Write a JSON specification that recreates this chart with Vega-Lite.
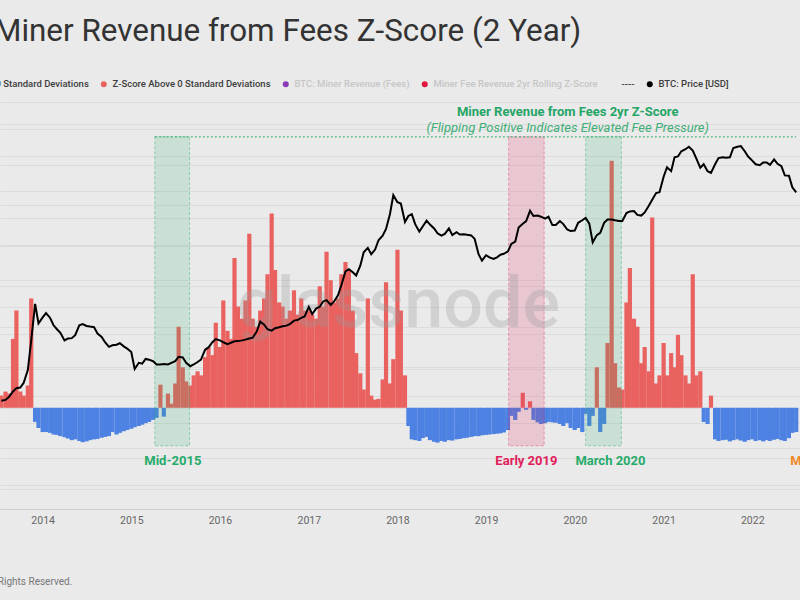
{
  "$schema": "https://vega.github.io/schema/vega-lite/v6.json",
  "width": 800,
  "height": 409,
  "autosize": {"type": "none"},
  "padding": {"left": 0, "top": 100, "right": 0, "bottom": 91},
  "background": "#eaeaea",
  "config": {"view": {"stroke": null}, "font": "Roboto",
    "axisX": {"grid": false, "ticks": false, "domainColor": "#cdcdcd", "labelColor": "#666666", "labelFontSize": 10.5, "labelPadding": 6, "labelFlush": false, "title": null}},
  "title": {"text": "Miner Revenue from Fees Z-Score (2 Year)", "anchor": "start", "frame": "group", "fontSize": 31.4, "font": "Roboto", "fontWeight": "normal", "color": "#333333", "offset": 32, "dx": -6},
  "datasets": {
    "main": [
      {"d":"2013-07-15","z":0.3,"p":88},{"d":"2013-08-01","z":0.4,"p":90},{"d":"2013-08-15","z":0.35,"p":97},{"d":"2013-09-01","z":1.7,"p":112},{"d":"2013-09-15","z":2.4,"p":122},{"d":"2013-10-01","z":0.4,"p":124},{"d":"2013-10-15","z":0.3,"p":140},{"d":"2013-11-01","z":0.55,"p":195},{"d":"2013-11-15","z":2.7,"p":420},{"d":"2013-12-01","z":-0.35,"p":1080},{"d":"2013-12-15","z":-0.5,"p":650},
      {"d":"2014-01-01","z":-0.6,"p":760},{"d":"2014-01-15","z":-0.6,"p":850},{"d":"2014-02-01","z":-0.62,"p":750},{"d":"2014-02-15","z":-0.66,"p":620},{"d":"2014-03-01","z":-0.67,"p":560},{"d":"2014-03-15","z":-0.7,"p":510},{"d":"2014-04-01","z":-0.73,"p":420},{"d":"2014-04-15","z":-0.76,"p":440},{"d":"2014-05-01","z":-0.8,"p":445},{"d":"2014-05-15","z":-0.78,"p":480},{"d":"2014-06-01","z":-0.82,"p":620},{"d":"2014-06-15","z":-0.85,"p":640},{"d":"2014-07-01","z":-0.83,"p":610},{"d":"2014-07-15","z":-0.8,"p":600},{"d":"2014-08-01","z":-0.78,"p":590},{"d":"2014-08-15","z":-0.77,"p":500},{"d":"2014-09-01","z":-0.74,"p":460},{"d":"2014-09-15","z":-0.72,"p":400},{"d":"2014-10-01","z":-0.7,"p":355},{"d":"2014-10-15","z":-0.6,"p":370},{"d":"2014-11-01","z":-0.66,"p":375},{"d":"2014-11-15","z":-0.62,"p":390},{"d":"2014-12-01","z":-0.58,"p":360},{"d":"2014-12-15","z":-0.55,"p":340},
      {"d":"2015-01-01","z":-0.52,"p":310},{"d":"2015-01-15","z":-0.48,"p":200},{"d":"2015-02-01","z":-0.45,"p":235},{"d":"2015-02-15","z":-0.42,"p":230},{"d":"2015-03-01","z":-0.38,"p":260},{"d":"2015-03-15","z":-0.35,"p":255},{"d":"2015-04-01","z":-0.3,"p":245},{"d":"2015-04-15","z":-0.25,"p":225},{"d":"2015-05-01","z":0.57,"p":225},{"d":"2015-05-15","z":-0.22,"p":228},{"d":"2015-06-01","z":0.35,"p":225},{"d":"2015-06-15","z":0.1,"p":235},{"d":"2015-07-01","z":0.6,"p":245},{"d":"2015-07-15","z":2.0,"p":275},{"d":"2015-08-01","z":1.0,"p":270},{"d":"2015-08-15","z":0.65,"p":235},{"d":"2015-09-01","z":0.55,"p":215},{"d":"2015-09-15","z":0.8,"p":225},{"d":"2015-10-01","z":0.9,"p":240},{"d":"2015-10-15","z":0.8,"p":255},{"d":"2015-11-01","z":1.25,"p":330},{"d":"2015-11-15","z":1.5,"p":350},{"d":"2015-12-01","z":1.3,"p":400},{"d":"2015-12-15","z":2.1,"p":435},
      {"d":"2016-01-01","z":1.5,"p":420},{"d":"2016-01-15","z":2.65,"p":400},{"d":"2016-02-01","z":1.9,"p":380},{"d":"2016-02-15","z":1.7,"p":395},{"d":"2016-03-01","z":3.7,"p":410},{"d":"2016-03-15","z":2.5,"p":412},{"d":"2016-04-01","z":2.2,"p":420},{"d":"2016-04-15","z":2.65,"p":428},{"d":"2016-05-01","z":4.3,"p":440},{"d":"2016-05-15","z":2.2,"p":450},{"d":"2016-06-01","z":2.0,"p":530},{"d":"2016-06-15","z":2.4,"p":680},{"d":"2016-07-01","z":2.7,"p":630},{"d":"2016-07-15","z":3.3,"p":560},{"d":"2016-08-01","z":4.8,"p":540},{"d":"2016-08-15","z":3.4,"p":575},{"d":"2016-09-01","z":2.6,"p":590},{"d":"2016-09-15","z":2.5,"p":605},{"d":"2016-10-01","z":2.2,"p":615},{"d":"2016-10-15","z":2.4,"p":640},{"d":"2016-11-01","z":2.9,"p":700},{"d":"2016-11-15","z":2.3,"p":710},{"d":"2016-12-01","z":2.7,"p":750},{"d":"2016-12-15","z":2.4,"p":780},
      {"d":"2017-01-01","z":2.4,"p":1000},{"d":"2017-01-15","z":2.3,"p":830},{"d":"2017-02-01","z":2.2,"p":960},{"d":"2017-02-15","z":3.0,"p":1000},{"d":"2017-03-01","z":2.5,"p":1150},{"d":"2017-03-15","z":3.85,"p":1190},{"d":"2017-04-01","z":3.15,"p":1050},{"d":"2017-04-15","z":2.6,"p":1150},{"d":"2017-05-01","z":2.7,"p":1350},{"d":"2017-05-15","z":3.3,"p":1750},{"d":"2017-06-01","z":3.6,"p":2500},{"d":"2017-06-15","z":3.4,"p":2650},{"d":"2017-07-01","z":2.4,"p":2450},{"d":"2017-07-15","z":1.35,"p":2250},{"d":"2017-08-01","z":0.85,"p":2900},{"d":"2017-08-15","z":0.45,"p":4100},{"d":"2017-09-01","z":2.7,"p":4600},{"d":"2017-09-15","z":0.3,"p":3900},{"d":"2017-10-01","z":0.2,"p":4400},{"d":"2017-10-15","z":0.22,"p":5600},{"d":"2017-11-01","z":0.7,"p":6300},{"d":"2017-11-15","z":3.1,"p":7500},{"d":"2017-12-01","z":0.6,"p":11000},{"d":"2017-12-15","z":1.2,"p":18000},
      {"d":"2018-01-01","z":3.9,"p":15000},{"d":"2018-01-15","z":2.4,"p":14500},{"d":"2018-02-01","z":0.8,"p":9000},{"d":"2018-02-15","z":-0.45,"p":10500},{"d":"2018-03-01","z":-0.78,"p":11000},{"d":"2018-03-15","z":-0.8,"p":8500},{"d":"2018-04-01","z":-0.82,"p":7000},{"d":"2018-04-15","z":-0.75,"p":8000},{"d":"2018-05-01","z":-0.72,"p":9300},{"d":"2018-05-15","z":-0.8,"p":8400},{"d":"2018-06-01","z":-0.84,"p":7600},{"d":"2018-06-15","z":-0.86,"p":6700},{"d":"2018-07-01","z":-0.82,"p":6300},{"d":"2018-07-15","z":-0.84,"p":6600},{"d":"2018-08-01","z":-0.8,"p":7600},{"d":"2018-08-15","z":-0.81,"p":6400},{"d":"2018-09-01","z":-0.78,"p":6900},{"d":"2018-09-15","z":-0.77,"p":6500},{"d":"2018-10-01","z":-0.75,"p":6550},{"d":"2018-10-15","z":-0.74,"p":6450},{"d":"2018-11-01","z":-0.72,"p":6350},{"d":"2018-11-15","z":-0.7,"p":5800},{"d":"2018-12-01","z":-0.7,"p":3900},{"d":"2018-12-15","z":-0.68,"p":3300},
      {"d":"2019-01-01","z":-0.67,"p":3800},{"d":"2019-01-15","z":-0.66,"p":3600},{"d":"2019-02-01","z":-0.65,"p":3450},{"d":"2019-02-15","z":-0.64,"p":3600},{"d":"2019-03-01","z":-0.63,"p":3850},{"d":"2019-03-15","z":-0.61,"p":3950},{"d":"2019-04-01","z":-0.55,"p":4200},{"d":"2019-04-15","z":-0.2,"p":5100},{"d":"2019-05-01","z":-0.3,"p":5400},{"d":"2019-05-15","z":-0.1,"p":7800},{"d":"2019-06-01","z":0.37,"p":8600},{"d":"2019-06-15","z":-0.05,"p":9200},{"d":"2019-07-01","z":0.16,"p":12000},{"d":"2019-07-15","z":-0.3,"p":10500},{"d":"2019-08-01","z":-0.36,"p":10600},{"d":"2019-08-15","z":-0.4,"p":10300},{"d":"2019-09-01","z":-0.38,"p":9800},{"d":"2019-09-15","z":-0.35,"p":10300},{"d":"2019-10-01","z":-0.36,"p":8300},{"d":"2019-10-15","z":-0.37,"p":8300},{"d":"2019-11-01","z":-0.4,"p":9200},{"d":"2019-11-15","z":-0.45,"p":8500},{"d":"2019-12-01","z":-0.38,"p":7400},{"d":"2019-12-15","z":-0.5,"p":7100},
      {"d":"2020-01-01","z":-0.55,"p":7200},{"d":"2020-01-15","z":-0.5,"p":8800},{"d":"2020-02-01","z":-0.6,"p":9400},{"d":"2020-02-15","z":-0.15,"p":10000},{"d":"2020-03-01","z":-0.45,"p":8600},{"d":"2020-03-15","z":-0.2,"p":5300},{"d":"2020-04-01","z":1.0,"p":6400},{"d":"2020-04-15","z":-0.6,"p":6800},{"d":"2020-05-01","z":-0.4,"p":8800},{"d":"2020-05-15","z":1.6,"p":9600},{"d":"2020-06-01","z":6.1,"p":9600},{"d":"2020-06-15","z":1.1,"p":9400},{"d":"2020-07-01","z":0.5,"p":9200},{"d":"2020-07-15","z":0.45,"p":9200},{"d":"2020-08-01","z":2.6,"p":11300},{"d":"2020-08-15","z":3.45,"p":11800},{"d":"2020-09-01","z":2.2,"p":11900},{"d":"2020-09-15","z":2.0,"p":10800},{"d":"2020-10-01","z":1.1,"p":10600},{"d":"2020-10-15","z":1.5,"p":11500},{"d":"2020-11-01","z":0.9,"p":13700},{"d":"2020-11-15","z":4.7,"p":16000},{"d":"2020-12-01","z":0.6,"p":19000},{"d":"2020-12-15","z":0.8,"p":19400},
      {"d":"2021-01-01","z":1.6,"p":29000},{"d":"2021-01-15","z":0.8,"p":37000},{"d":"2021-02-01","z":1.35,"p":33500},{"d":"2021-02-15","z":1.0,"p":48000},{"d":"2021-03-01","z":1.8,"p":49000},{"d":"2021-03-15","z":1.3,"p":56000},{"d":"2021-04-01","z":0.8,"p":59000},{"d":"2021-04-15","z":0.6,"p":63000},{"d":"2021-05-01","z":3.3,"p":57000},{"d":"2021-05-15","z":0.8,"p":47000},{"d":"2021-06-01","z":0.9,"p":36500},{"d":"2021-06-15","z":-0.35,"p":40000},{"d":"2021-07-01","z":-0.4,"p":33500},{"d":"2021-07-15","z":0.3,"p":32000},{"d":"2021-08-01","z":-0.78,"p":40000},{"d":"2021-08-15","z":-0.82,"p":47000},{"d":"2021-09-01","z":-0.8,"p":48000},{"d":"2021-09-15","z":-0.79,"p":47500},{"d":"2021-10-01","z":-0.83,"p":48000},{"d":"2021-10-15","z":-0.8,"p":61000},{"d":"2021-11-01","z":-0.78,"p":63000},{"d":"2021-11-15","z":-0.81,"p":64000},{"d":"2021-12-01","z":-0.84,"p":56000},{"d":"2021-12-15","z":-0.8,"p":48800},
      {"d":"2022-01-01","z":-0.78,"p":44000},{"d":"2022-01-15","z":-0.82,"p":40000},{"d":"2022-02-01","z":-0.8,"p":39000},{"d":"2022-02-15","z":-0.83,"p":42000},{"d":"2022-03-01","z":-0.8,"p":42000},{"d":"2022-03-15","z":-0.82,"p":39500},{"d":"2022-04-01","z":-0.79,"p":45500},{"d":"2022-04-15","z":-0.77,"p":40500},{"d":"2022-05-01","z":-0.8,"p":38000},{"d":"2022-05-15","z":-0.82,"p":30000},{"d":"2022-06-01","z":-0.75,"p":29800},{"d":"2022-06-15","z":-0.62,"p":22000},{"d":"2022-07-01","z":-0.6,"p":19300}
    ]
  },
  "layer": [
    {
      "data": {"name": "main"},
      "mark": {"type": "bar", "size": 4.2, "clip": true},
      "encoding": {
        "x": {"field": "d", "type": "temporal", "title": null,
          "scale": {"domain": [{"year": 2013, "month": 7, "date": 30}, {"year": 2022, "month": 6, "date": 26}], "nice": false},
          "axis": {"format": "%Y", "title": null, "values": [{"year": 2014, "month": 1, "date": 1}, {"year": 2015, "month": 1, "date": 1}, {"year": 2016, "month": 1, "date": 1}, {"year": 2017, "month": 1, "date": 1}, {"year": 2018, "month": 1, "date": 1}, {"year": 2019, "month": 1, "date": 1}, {"year": 2020, "month": 1, "date": 1}, {"year": 2021, "month": 1, "date": 1}, {"year": 2022, "month": 1, "date": 1}]}},
        "y": {"field": "z", "type": "quantitative",
          "scale": {"domain": [-2.5, 7.6], "nice": false, "zero": false},
          "axis": {"grid": true, "gridColor": "#dcdcdc", "labels": false, "ticks": false, "domainOpacity": 0, "values": [-2, -1, 0, 1, 2, 3, 4, 5, 6, 7], "title": null}},
        "y2": {"datum": 0},
        "color": {"condition": {"test": "datum.z < 0", "value": "#4d82e3"}, "value": "#e9625f"}
      }
    },
    {
      "data": {"values": [
        {"s": "2015-04-08", "e": "2015-08-29"},
        {"s": "2020-02-15", "e": "2020-07-11"}
      ]},
      "mark": {"type": "rect", "color": "#2db06f", "fillOpacity": 0.17, "stroke": "#2db06f", "strokeOpacity": 0.45, "strokeWidth": 1, "strokeDash": [3, 2]},
      "encoding": {
        "x": {"field": "s", "type": "temporal", "title": null, "scale": {"domain": [{"year": 2013, "month": 7, "date": 30}, {"year": 2022, "month": 6, "date": 26}], "nice": false}},
        "x2": {"field": "e"},
        "y": {"datum": 6.69, "type": "quantitative", "axis": null, "scale": {"domain": [-2.5, 7.6], "nice": false, "zero": false}},
        "y2": {"datum": -0.94}
      }
    },
    {
      "data": {"values": [
        {"s": "2019-04-04", "e": "2019-08-28"}
      ]},
      "mark": {"type": "rect", "color": "#e0205a", "fillOpacity": 0.17, "stroke": "#e0205a", "strokeOpacity": 0.4, "strokeWidth": 1, "strokeDash": [3, 2]},
      "encoding": {
        "x": {"field": "s", "type": "temporal", "title": null, "scale": {"domain": [{"year": 2013, "month": 7, "date": 30}, {"year": 2022, "month": 6, "date": 26}], "nice": false}},
        "x2": {"field": "e"},
        "y": {"datum": 6.69, "type": "quantitative", "axis": null, "scale": {"domain": [-2.5, 7.6], "nice": false, "zero": false}},
        "y2": {"datum": -0.94}
      }
    },
    {
      "data": {"values": [{"s": "2015-04-08", "e": "2022-07-01"}]},
      "mark": {"type": "rule", "color": "#2fae6c", "strokeDash": [2, 2], "strokeWidth": 1, "clip": true},
      "encoding": {
        "x": {"field": "s", "type": "temporal", "title": null, "scale": {"domain": [{"year": 2013, "month": 7, "date": 30}, {"year": 2022, "month": 6, "date": 26}], "nice": false}},
        "x2": {"field": "e"},
        "y": {"datum": 6.69, "type": "quantitative", "axis": null, "scale": {"domain": [-2.5, 7.6], "nice": false, "zero": false}}
      }
    },
    {
      "data": {"values": [
        {"d": "2015-06-21", "t": "Mid-2015"},
        {"d": "2020-05-27", "t": "March 2020"}
      ]},
      "mark": {"type": "text", "fontSize": 13, "fontWeight": "bold", "font": "Roboto", "baseline": "middle", "align": "center", "color": "#27ab6a"},
      "encoding": {
        "x": {"field": "d", "type": "temporal", "title": null, "scale": {"domain": [{"year": 2013, "month": 7, "date": 30}, {"year": 2022, "month": 6, "date": 26}], "nice": false}},
        "y": {"datum": -1.31, "type": "quantitative", "axis": null, "scale": {"domain": [-2.5, 7.6], "nice": false, "zero": false}},
        "text": {"field": "t"}
      }
    },
    {
      "data": {"values": [{"d": "2019-06-16", "t": "Early 2019"}]},
      "mark": {"type": "text", "fontSize": 13, "fontWeight": "bold", "font": "Roboto", "baseline": "middle", "align": "center", "color": "#e0205a"},
      "encoding": {
        "x": {"field": "d", "type": "temporal", "title": null, "scale": {"domain": [{"year": 2013, "month": 7, "date": 30}, {"year": 2022, "month": 6, "date": 26}], "nice": false}},
        "y": {"datum": -1.31, "type": "quantitative", "axis": null, "scale": {"domain": [-2.5, 7.6], "nice": false, "zero": false}},
        "text": {"field": "t"}
      }
    },
    {
      "data": {"values": [{"d": "2022-06-06", "t": "Mid-2022"}]},
      "mark": {"type": "text", "fontSize": 13, "fontWeight": "bold", "font": "Roboto", "baseline": "middle", "align": "left", "color": "#f0892a"},
      "encoding": {
        "x": {"field": "d", "type": "temporal", "title": null, "scale": {"domain": [{"year": 2013, "month": 7, "date": 30}, {"year": 2022, "month": 6, "date": 26}], "nice": false}},
        "y": {"datum": -1.31, "type": "quantitative", "axis": null, "scale": {"domain": [-2.5, 7.6], "nice": false, "zero": false}},
        "text": {"field": "t"}
      }
    },
    {
      "data": {"values": [{"d": "2019-12-03", "t": "Miner Revenue from Fees 2yr Z-Score"}]},
      "mark": {"type": "text", "fontSize": 13, "fontWeight": "bold", "font": "Roboto", "baseline": "middle", "align": "center", "color": "#25a566"},
      "encoding": {
        "x": {"field": "d", "type": "temporal", "title": null, "scale": {"domain": [{"year": 2013, "month": 7, "date": 30}, {"year": 2022, "month": 6, "date": 26}], "nice": false}},
        "y": {"datum": 7.31, "type": "quantitative", "axis": null, "scale": {"domain": [-2.5, 7.6], "nice": false, "zero": false}},
        "text": {"field": "t"}
      }
    },
    {
      "data": {"values": [{"d": "2019-12-03", "t": "(Flipping Positive Indicates Elevated Fee Pressure)"}]},
      "mark": {"type": "text", "fontSize": 13, "fontStyle": "italic", "font": "Roboto", "baseline": "middle", "align": "center", "color": "#3fae77"},
      "encoding": {
        "x": {"field": "d", "type": "temporal", "title": null, "scale": {"domain": [{"year": 2013, "month": 7, "date": 30}, {"year": 2022, "month": 6, "date": 26}], "nice": false}},
        "y": {"datum": 6.91, "type": "quantitative", "axis": null, "scale": {"domain": [-2.5, 7.6], "nice": false, "zero": false}},
        "text": {"field": "t"}
      }
    },
    {
      "data": {"values": [{"d": "2018-01-05", "t": "glassnode"}]},
      "mark": {"type": "text", "fontSize": 70, "fontWeight": 500, "font": "Roboto", "baseline": "alphabetic", "align": "center", "color": "#999999", "opacity": 0.3},
      "encoding": {
        "x": {"field": "d", "type": "temporal", "title": null, "scale": {"domain": [{"year": 2013, "month": 7, "date": 30}, {"year": 2022, "month": 6, "date": 26}], "nice": false}},
        "y": {"datum": 2.0, "type": "quantitative", "axis": null, "scale": {"domain": [-2.5, 7.6], "nice": false, "zero": false}},
        "text": {"field": "t"}
      }
    },
    {
      "data": {"values": [{"d": "2014-05-03", "t": "© 2022 Glassnode. All Rights Reserved."}]},
      "mark": {"type": "text", "fontSize": 10, "font": "Roboto", "baseline": "middle", "align": "right", "color": "#777777"},
      "encoding": {
        "x": {"field": "d", "type": "temporal", "title": null, "scale": {"domain": [{"year": 2013, "month": 7, "date": 30}, {"year": 2022, "month": 6, "date": 26}], "nice": false}},
        "y": {"datum": -4.3, "type": "quantitative", "axis": null, "scale": {"domain": [-2.5, 7.6], "nice": false, "zero": false}},
        "text": {"field": "t"}
      }
    },
    {
      "data": {"name": "main"},
      "mark": {"type": "line", "strokeWidth": 2, "clip": true, "color": "#000000"},
      "encoding": {
        "x": {"field": "d", "type": "temporal", "title": null, "scale": {"domain": [{"year": 2013, "month": 7, "date": 30}, {"year": 2022, "month": 6, "date": 26}], "nice": false}},
        "y": {"field": "p", "type": "quantitative",
          "scale": {"type": "log", "domain": [5.35, 211000], "nice": false},
          "axis": {"orient": "right", "grid": true, "gridColor": "#dcdcdc", "labels": false, "ticks": false, "domainOpacity": 0, "values": [5, 10, 20, 50, 100, 200, 500, 1000, 2000, 5000, 10000, 20000, 50000, 100000, 200000], "title": null}}
      }
    },
    {
      "data": {"values": [{}]},
      "mark": {"type": "point", "filled": true, "opacity": 0},
      "encoding": {
        "color": {"datum": "BTC: Price [USD]", "type": "nominal",
          "scale": {"domain": ["Z-Score Below 0 Standard Deviations", "Z-Score Above 0 Standard Deviations", "BTC: Miner Revenue (Fees)", "Miner Fee Revenue 2yr Rolling Z-Score", "----", "BTC: Price [USD]"], "range": ["#4d82e3", "#e9625f", "#8a3ab9", "#e3173e", "rgba(0,0,0,0)", "#000000"]},
          "legend": {"orient": "none", "legendX": -82, "legendY": -21, "direction": "horizontal", "title": null, "symbolType": "circle", "symbolSize": 36, "symbolOpacity": 1, "symbolStrokeWidth": 0, "labelFont": "Roboto", "labelFontSize": 9.5, "labelFontWeight": 500, "labelOffset": 4, "columnPadding": 10, "padding": 0, "labelLimit": 300,
            "labelColor": {"expr": "datum.value === 'BTC: Miner Revenue (Fees)' || datum.value === 'Miner Fee Revenue 2yr Rolling Z-Score' ? '#c6c6c6' : '#3c3c3c'"}}}
      }
    }
  ],
  "resolve": {"scale": {"y": "independent"}}
}
